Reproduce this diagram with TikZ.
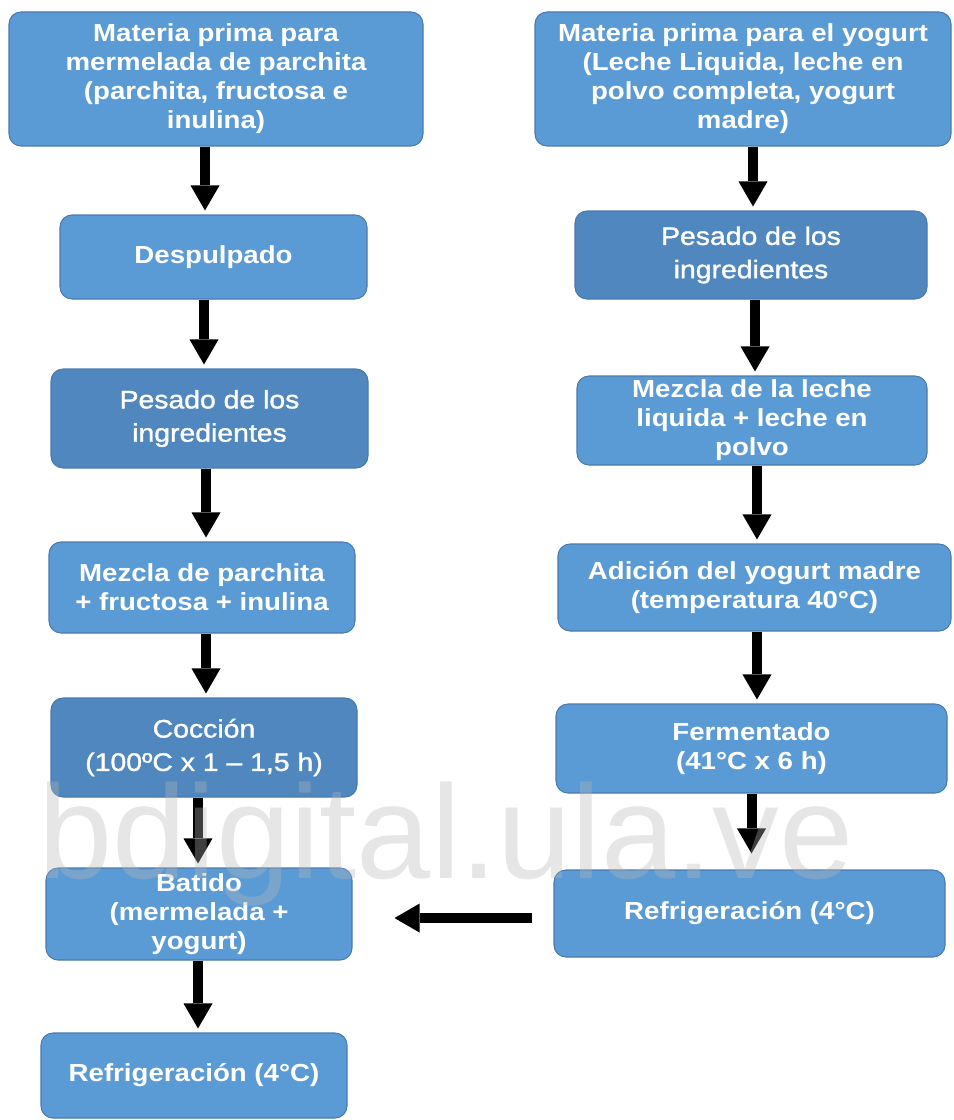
\documentclass[tikz,border=0pt]{standalone}
\usepackage{fontspec}
\setmainfont{Liberation Sans}[FakeStretch=1.12]
\newfontfamily\medfont{Liberation Sans}[FakeStretch=1.12, FakeBold=1.3]
\newfontfamily\wmfont{Liberation Sans}
\usetikzlibrary{arrows.meta}
\definecolor{boxlight}{HTML}{5B9BD5}
\definecolor{boxdark}{HTML}{4F87BE}
\definecolor{boxline}{HTML}{4A7AAE}
\definecolor{wmgray}{HTML}{B6B6B6}
\tikzset{
  box/.style={draw=boxline, line width=0.8pt, rounded corners=9pt, fill=boxlight,
    text=white, align=center, inner sep=0pt,
    font=\bfseries\fontsize{18.5}{21.75}\selectfont},
  darkbox/.style={box, fill=boxdark, font=\medfont\fontsize{19}{25}\selectfont},
  flow/.style={line width=7.5pt, shorten >=3pt,
    -{Triangle[length=18.75pt,width=21.75pt,line width=0pt]}},
}
\begin{document}
\begin{tikzpicture}[x=0.75pt,y=-0.75pt]
\useasboundingbox (0,0) rectangle (953,1120);
% left column
\node[box, minimum width=310.5pt, minimum height=100.5pt] (L1) at (216,79)
  {Materia prima para\\mermelada de parchita\\(parchita, fructosa e\\inulina)};
\node[box, minimum width=230.25pt, minimum height=63pt] (L2) at (213.5,257)
  {Despulpado};
\node[darkbox, minimum width=237.75pt, minimum height=74.25pt] (L3) at (209.5,418.5)
  {Pesado de los\\ingredientes};
\node[box, minimum width=229.5pt, minimum height=68.25pt] (L4) at (202,587.5)
  {Mezcla de parchita\\+ fructosa + inulina};
\node[darkbox, minimum width=229.5pt, minimum height=74.25pt] (L5) at (204,747.5)
  {Cocción\\(100ºC x 1 – 1,5 h)};
\node[box, minimum width=229.5pt, minimum height=69pt] (L6) at (199,914)
  {Batido\\(mermelada +\\yogurt)};
\node[box, minimum width=229.5pt, minimum height=63.75pt] (L7) at (194,1075.5)
  {Refrigeración (4°C)};
% right column
\node[box, minimum width=312pt, minimum height=100.5pt] (R1) at (743,79)
  {Materia prima para el yogurt\\(Leche Liquida, leche en\\polvo completa, yogurt\\madre)};
\node[darkbox, minimum width=264pt, minimum height=66pt] (R2) at (751,255)
  {Pesado de los\\ingredientes};
\node[box, minimum width=262.5pt, minimum height=66.75pt] (R3) at (752,420.5)
  {Mezcla de la leche\\liquida + leche en\\polvo};
\node[box, minimum width=294.75pt, minimum height=65.25pt] (R4) at (754.5,587.5)
  {Adición del yogurt madre\\(temperatura 40°C)};
\node[box, minimum width=293.25pt, minimum height=66.75pt] (R5) at (751.5,748.5)
  {Fermentado\\(41°C x 6 h)};
\node[box, minimum width=293.25pt, minimum height=65.25pt] (R6) at (749.5,913.5)
  {Refrigeración (4°C)};
% arrows left
\draw[flow] ([xshift=-8.25pt]L1.south) -- ([xshift=-8.25pt]L1.south |- L2.north);
\draw[flow] ([xshift=-7.125pt]L2.south) -- ([xshift=-7.125pt]L2.south |- L3.north);
\draw[flow] ([xshift=-2.625pt]L3.south) -- ([xshift=-2.625pt]L3.south |- L4.north);
\draw[flow] ([xshift=3pt]L4.south) -- ([xshift=3pt]L4.south |- L5.north);
\draw[flow] ([xshift=-4.5pt]L5.south) -- ([xshift=-4.5pt]L5.south |- L6.north);
\draw[flow] ([xshift=-0.75pt]L6.south) -- ([xshift=-0.75pt]L6.south |- L7.north);
% arrows right
\draw[flow] ([xshift=7.5pt]R1.south) -- ([xshift=7.5pt]R1.south |- R2.north);
\draw[flow] ([xshift=3pt]R2.south) -- ([xshift=3pt]R2.south |- R3.north);
\draw[flow] ([xshift=3.75pt]R3.south) -- ([xshift=3.75pt]R3.south |- R4.north);
\draw[flow] ([xshift=1.875pt]R4.south) -- ([xshift=1.875pt]R4.south |- R5.north);
\draw[flow, shorten >=12pt] (R5.south) -- (R5.south |- R6.north);
% cross arrow
\draw[flow, shorten <=15.75pt, shorten >=31.5pt]
  ([yshift=-3.4pt]R6.west) -- ([yshift=-3.4pt]R6.west -| L6.east);
% watermark
\node[anchor=base west, inner sep=0pt, text=wmgray, text opacity=0.35,
  font=\wmfont\fontsize{100}{100}\selectfont] (wm) at (38,878) {bdigital.ula.ve};
\end{tikzpicture}
\end{document}
